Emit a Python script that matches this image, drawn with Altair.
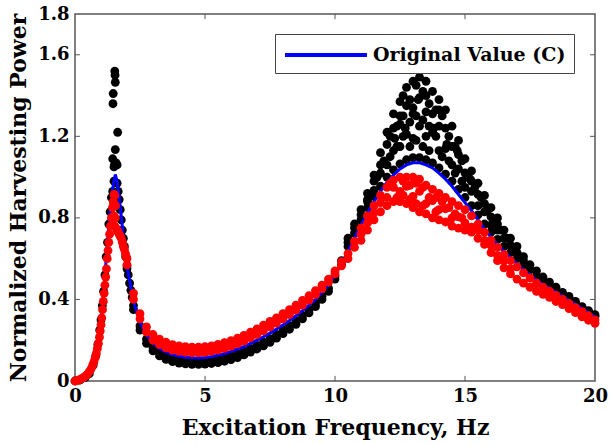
import altair as alt
import pandas as pd

# ---------------- data ----------------
blue_x = [0.0, 0.2, 0.4, 0.55, 0.7, 0.8, 0.9, 1.0, 1.1, 1.2, 1.3, 1.4, 1.48, 1.55, 1.62, 1.7, 1.8, 1.9,
          2.0, 2.25, 2.5, 2.75, 3.0, 3.25, 3.5, 3.75, 4.0, 4.25, 4.5, 4.75, 5.0, 5.25, 5.5, 5.75,
          6.0, 6.25, 6.5, 6.75, 7.0, 7.25, 7.5, 7.75, 8.0, 8.25, 8.5, 8.75, 9.0, 9.25, 9.5, 9.75,
          10.0, 10.25, 10.5, 10.75, 11.0, 11.25, 11.5, 11.75, 12.0, 12.25, 12.5, 12.75, 13.0, 13.25,
          13.5, 13.75, 14.0, 14.25, 14.5, 14.75, 15.0, 15.25, 15.5, 15.75, 16.0, 16.25, 16.5, 16.75,
          17.0, 17.25, 17.5, 17.75, 18.0, 18.25, 18.5, 18.75, 19.0, 19.25, 19.5, 19.75, 20.0]
blue_y = [0.0, 0.005, 0.017, 0.035, 0.075, 0.12, 0.19, 0.29, 0.43, 0.6, 0.76, 0.89, 0.97, 1.013, 0.98, 0.9, 0.78, 0.66,
          0.56, 0.39, 0.29, 0.225, 0.185, 0.16, 0.143, 0.13, 0.122, 0.117, 0.114, 0.113, 0.115, 0.12, 0.127, 0.135,
          0.145, 0.157, 0.17, 0.185, 0.2, 0.217, 0.235, 0.255, 0.275, 0.297, 0.32, 0.345, 0.372, 0.40, 0.435, 0.47,
          0.52, 0.575, 0.635, 0.70, 0.765, 0.825, 0.88, 0.93, 0.975, 1.01, 1.04, 1.06, 1.07, 1.07,
          1.06, 1.045, 1.02, 0.99, 0.955, 0.915, 0.875, 0.835, 0.79, 0.745, 0.705, 0.67, 0.635, 0.605,
          0.575, 0.545, 0.52, 0.495, 0.472, 0.455, 0.435, 0.415, 0.395, 0.375, 0.355, 0.335, 0.315]

# common frequency grid for the scatter bands
grid_x = [2.0, 2.25, 2.5, 2.75, 3.0, 3.25, 3.5, 3.75, 4.0, 4.25, 4.5, 4.75, 5.0, 5.25, 5.5, 5.75,
          6.0, 6.25, 6.5, 6.75, 7.0, 7.25, 7.5, 7.75, 8.0, 8.25, 8.5, 8.75, 9.0, 9.25, 9.5, 9.75,
          10.0, 10.25, 10.5, 10.75, 11.0, 11.25, 11.5, 11.75, 12.0, 12.25, 12.5, 12.75, 13.0, 13.25,
          13.5, 13.75, 14.0, 14.25, 14.5, 14.75, 15.0, 15.25, 15.5, 15.75, 16.0, 16.25, 16.5, 16.75,
          17.0, 17.25, 17.5, 17.75, 18.0, 18.25, 18.5, 18.75, 19.0, 19.25, 19.5, 19.75, 20.0]

red_hi = [0.60, 0.43, 0.33, 0.265, 0.228, 0.205, 0.19, 0.178, 0.172, 0.168, 0.166, 0.166, 0.168, 0.172, 0.18, 0.188,
          0.198, 0.21, 0.224, 0.24, 0.256, 0.274, 0.292, 0.31, 0.33, 0.35, 0.372, 0.395, 0.418, 0.443, 0.47, 0.5,
          0.54, 0.585, 0.625, 0.685, 0.75, 0.81, 0.86, 0.91, 0.95, 0.985, 1.0, 1.0, 1.0, 0.99,
          0.96, 0.94, 0.92, 0.9, 0.88, 0.86, 0.84, 0.81, 0.77, 0.73, 0.69, 0.655, 0.62, 0.59,
          0.56, 0.53, 0.505, 0.48, 0.46, 0.44, 0.42, 0.4, 0.38, 0.36, 0.34, 0.32, 0.3]
red_lo = [0.57, 0.40, 0.305, 0.24, 0.2, 0.178, 0.163, 0.152, 0.145, 0.141, 0.138, 0.138, 0.14, 0.145, 0.152, 0.16,
          0.17, 0.182, 0.196, 0.212, 0.228, 0.246, 0.265, 0.284, 0.305, 0.326, 0.348, 0.372, 0.397, 0.424, 0.453, 0.485,
          0.525, 0.565, 0.6, 0.655, 0.69, 0.74, 0.79, 0.83, 0.86, 0.88, 0.88, 0.87, 0.85, 0.83,
          0.82, 0.8, 0.79, 0.78, 0.76, 0.75, 0.74, 0.73, 0.70, 0.67, 0.63, 0.59, 0.555, 0.525,
          0.5, 0.48, 0.46, 0.44, 0.425, 0.41, 0.39, 0.375, 0.355, 0.335, 0.315, 0.298, 0.283]
red_mid = [None] * 36 + [0.72, 0.775, 0.825, 0.875, 0.9, 0.95, 0.93, 0.955, 0.905, 0.93,
                         0.87, 0.885, 0.84, 0.845, 0.8, 0.805, 0.775, 0.755, 0.74, 0.69, 0.665, 0.615, 0.59, 0.55] + [None] * 13

blk_hi = [0.55, 0.37, 0.27, 0.205, 0.165, 0.14, 0.123, 0.112, 0.104, 0.099, 0.096, 0.096, 0.097, 0.1, 0.106, 0.113,
          0.122, 0.133, 0.146, 0.16, 0.175, 0.19, 0.208, 0.228, 0.25, 0.272, 0.296, 0.322, 0.35, 0.38, 0.415, 0.455,
          0.515, 0.59, 0.70, 0.77, 0.84, 0.92, 1.01, 1.12, 1.22, 1.31, 1.37, 1.44, 1.47, 1.49,
          1.47, 1.42, 1.38, 1.33, 1.25, 1.18, 1.09, 1.03, 0.97, 0.91, 0.85, 0.8, 0.74, 0.70,
          0.66, 0.61, 0.57, 0.54, 0.51, 0.485, 0.46, 0.435, 0.415, 0.39, 0.365, 0.345, 0.325]
blk_lo = [None, 0.35, 0.25, 0.185, 0.148, 0.123, 0.106, 0.095, 0.088, 0.084, 0.082, 0.082, 0.083, 0.086, 0.09, 0.097,
          0.105, 0.115, 0.128, 0.142, 0.157, 0.172, 0.19, 0.21, 0.232, 0.254, 0.278, 0.305, 0.334, 0.365, 0.4, 0.44,
          0.5, 0.57, 0.66, 0.725, 0.79, 0.85, 0.905, 0.955, 1.0, 1.035, 1.065, 1.085, 1.095, 1.095,
          1.085, 1.07, 1.045, 1.015, 0.98, 0.94, 0.9, 0.86, 0.815, 0.77, 0.73, 0.695, 0.66, 0.63,
          0.6, 0.57, 0.545, 0.515, 0.49, 0.47, 0.448, 0.425, 0.405, 0.383, 0.362, 0.34, 0.318]
blk_m1 = [None] * 37 + [0.88, 0.935, 1.02, 1.06, 1.13, 1.15, 1.21, 1.19, 1.25,
                        1.2, 1.22, 1.13, 1.14, 1.06, 1.04, 0.95, 0.93, 0.86, 0.83, 0.765, 0.74] + [None] * 15
blk_m2 = [None] * 34 + [0.68, 0.75, 0.815, 0.89, 0.98, 1.06, 1.16, 1.24, 1.26, 1.35, 1.34, 1.39,
                        1.32, 1.31, 1.25, 1.24, 1.15, 1.11, 1.02, 0.98, 0.915, 0.87, 0.805, 0.77, 0.7, 0.665,
                        0.63, 0.59] + [None] * 11

# first resonance (individual points)
blk_px = [0.0, 0.2, 0.4, 0.55, 0.7, 0.8, 0.88, 0.95, 1.0, 1.05, 1.1, 1.15, 1.2, 1.25, 1.3, 1.35, 1.4, 1.45, 1.5,
          1.53, 1.54, 1.55, 1.47, 1.46, 1.64, 1.55, 1.45, 1.52, 1.58, 1.62, 1.5,
          1.62, 1.66, 1.7, 1.74, 1.78, 1.82, 1.86, 1.9, 1.95, 2.0, 2.05, 2.1, 2.15, 2.2]
blk_py = [0.0, 0.005, 0.018, 0.036, 0.078, 0.125, 0.18, 0.25, 0.3, 0.37, 0.44, 0.52, 0.61, 0.68, 0.77, 0.83, 0.9, 0.93, 0.98,
          1.52, 1.5, 1.465, 1.41, 1.36, 1.22, 1.135, 1.09, 1.06, 1.07, 1.06, 1.05,
          0.97, 0.93, 0.89, 0.84, 0.79, 0.74, 0.7, 0.66, 0.61, 0.565, 0.52, 0.48, 0.445, 0.41]
red_px = [0.0, 0.08, 0.16, 0.24, 0.32, 0.40, 0.48, 0.55, 0.62, 0.68, 0.73, 0.78, 0.82, 0.86, 0.90, 0.94, 0.97,
          1.00, 1.03, 1.06, 1.09, 1.12, 1.15, 1.18, 1.21, 1.24, 1.27, 1.30, 1.33, 1.36, 1.40, 1.44, 1.47,
          1.50, 1.53, 1.52, 1.56, 1.50, 1.55, 1.53, 1.58, 1.62, 1.66, 1.70, 1.74, 1.78, 1.82, 1.86, 1.90, 1.94, 1.97]
red_py = [0.0, 0.002, 0.005, 0.01, 0.016, 0.024, 0.034, 0.046, 0.06, 0.077, 0.095, 0.115, 0.135, 0.16, 0.185, 0.215, 0.245,
          0.275, 0.31, 0.35, 0.39, 0.43, 0.47, 0.51, 0.55, 0.6, 0.64, 0.68, 0.72, 0.76, 0.8, 0.85, 0.88,
          0.915, 0.91, 0.86, 0.86, 0.81, 0.8, 0.76, 0.75, 0.74, 0.73, 0.72, 0.71, 0.7, 0.68, 0.66, 0.645, 0.625, 0.61]

# extra scattered points around the second resonance
blk_ex_x = [11.62, 11.88, 12.12, 12.12, 12.38, 12.38, 12.62, 12.62, 12.62, 12.88, 12.88, 12.88, 13.12, 13.12, 13.12,
            13.38, 13.38, 13.38, 13.62, 13.62, 13.62, 13.88, 13.88, 14.12, 14.12, 14.38, 14.38, 14.62, 14.62,
            14.88, 14.88, 15.12, 15.38, 15.62, 15.88, 16.12, 16.38, 16.62, 16.88, 17.12,
            12.3, 12.7, 13.0, 13.5, 13.8, 14.3, 12.5, 13.2, 14.0, 14.7, 15.2]
blk_ex_y = [1.0, 1.08, 1.2, 1.1, 1.25, 1.15, 1.4, 1.3, 1.2, 1.38, 1.27, 1.15, 1.45, 1.3, 1.18,
            1.42, 1.28, 1.15, 1.36, 1.25, 1.13, 1.33, 1.2, 1.3, 1.1, 1.2, 1.08, 1.15, 1.02,
            1.08, 0.98, 1.0, 0.95, 0.9, 0.84, 0.79, 0.74, 0.7, 0.65, 0.61,
            1.19, 1.24, 1.31, 1.4, 1.24, 1.16, 1.3, 1.38, 1.33, 1.13, 0.99]
red_ex_x = [12.12, 12.38, 12.62, 12.62, 12.88, 12.88, 13.12, 13.12, 13.38, 13.38, 13.62, 13.88, 13.88, 14.12,
            14.38, 14.62, 14.88]
red_ex_y = [0.97, 0.9, 0.98, 0.91, 0.96, 0.89, 0.97, 0.87, 0.95, 0.86, 0.9, 0.9, 0.83, 0.88,
            0.85, 0.82, 0.8]

x_ticks = [0, 5, 10, 15, 20]
y_ticks = [0, 0.4, 0.8, 1.2, 1.6, 1.8]
x_inner = [5, 10, 15]
y_inner = [0.4, 0.8, 1.2, 1.6]
legend_label = "Original Value (C)"

# ---------------- tables ----------------
def band(xs, *cols):
    out_x, out_y = [], []
    for col in cols:
        for x, y in zip(xs, col):
            if y is not None:
                out_x.append(x)
                out_y.append(y)
    return out_x, out_y

bx, by = band(grid_x, blk_lo, blk_m1, blk_m2, blk_hi)
rx, ry = band(grid_x, red_lo, red_mid, red_hi)
black_df = pd.DataFrame({"f": blk_px + bx + blk_ex_x, "p": blk_py + by + blk_ex_y})
red_df = pd.DataFrame({"f": red_px + rx + red_ex_x, "p": red_py + ry + red_ex_y})
blue_df = pd.DataFrame({"f": blue_x, "p": blue_y, "s": [legend_label] * len(blue_x)})

FONT = "DejaVu Serif"
DOT = 78
xs = alt.Scale(domain=[0, 20], nice=False)
ys = alt.Scale(domain=[0, 1.8], nice=False)

x_axis = alt.Axis(values=x_ticks, title="Excitation Frequency, Hz", labelPadding=6, titlePadding=12,
                  grid=False, ticks=False, domain=False, labelFlush=False)
y_axis = alt.Axis(values=y_ticks, title="Normalized Harvesting Power", labelPadding=6, titlePadding=7,
                  grid=False, ticks=False, domain=False, labelFlush=False,
                  labelExpr="datum.value == 0 ? '0' : format(datum.value, '.1f')")

black = alt.Chart(black_df).mark_circle(size=DOT, opacity=1, color="#000000").encode(
    x=alt.X("f:Q", scale=xs, axis=x_axis),
    y=alt.Y("p:Q", scale=ys, axis=y_axis),
)
line = alt.Chart(blue_df).mark_line(strokeWidth=3).encode(
    x=alt.X("f:Q", scale=xs),
    y=alt.Y("p:Q", scale=ys),
    color=alt.Color("s:N", scale=alt.Scale(domain=[legend_label], range=["#0000ff"]),
                    legend=alt.Legend(orient="none", legendX=200, legendY=20, title=None,
                                      symbolType="M-1,0L6.45,0", symbolSize=484, symbolStrokeWidth=4,
                                      labelFont=FONT, labelFontWeight="bold", labelFontSize=19,
                                      labelFontStyle="normal",
                                      labelColor="black", labelOffset=64, labelLimit=500, padding=8,
                                      strokeColor="#444444", fillColor="white")),
)
red = alt.Chart(red_df).mark_circle(size=DOT, opacity=1, color="#ff0000").encode(
    x=alt.X("f:Q", scale=xs),
    y=alt.Y("p:Q", scale=ys),
)

tick_color = "#555555"
bt = alt.Chart(pd.DataFrame({"v": x_inner})).mark_rule(color=tick_color, strokeWidth=1).encode(
    x=alt.X("v:Q", scale=xs), y=alt.datum(0, scale=ys), y2=alt.datum(0.025))
tt = alt.Chart(pd.DataFrame({"v": x_inner})).mark_rule(color=tick_color, strokeWidth=1).encode(
    x=alt.X("v:Q", scale=xs), y=alt.datum(1.8, scale=ys), y2=alt.datum(1.775))
lt = alt.Chart(pd.DataFrame({"v": y_inner})).mark_rule(color=tick_color, strokeWidth=1).encode(
    y=alt.Y("v:Q", scale=ys), x=alt.datum(0, scale=xs), x2=alt.datum(0.19))
rt = alt.Chart(pd.DataFrame({"v": y_inner})).mark_rule(color=tick_color, strokeWidth=1).encode(
    y=alt.Y("v:Q", scale=ys), x=alt.datum(20, scale=xs), x2=alt.datum(19.81))

chart = alt.layer(black, line, red, bt, tt, lt, rt).properties(
    width=520, height=367,
    autosize=alt.AutoSizeParams(type="none"),
    padding={"left": 75, "top": 14, "right": 14, "bottom": 64},
    background="white",
).configure_view(
    stroke="#555555", strokeWidth=1.5
).configure_axis(
    labelFont=FONT, labelFontWeight="bold", labelFontSize=18, labelColor="black", labelFontStyle="normal",
    titleFont=FONT, titleFontWeight="bold", titleFontSize=22, titleColor="black", titleFontStyle="normal",
)

chart.save("out.html", embed_options={"renderer": "svg", "actions": False})
